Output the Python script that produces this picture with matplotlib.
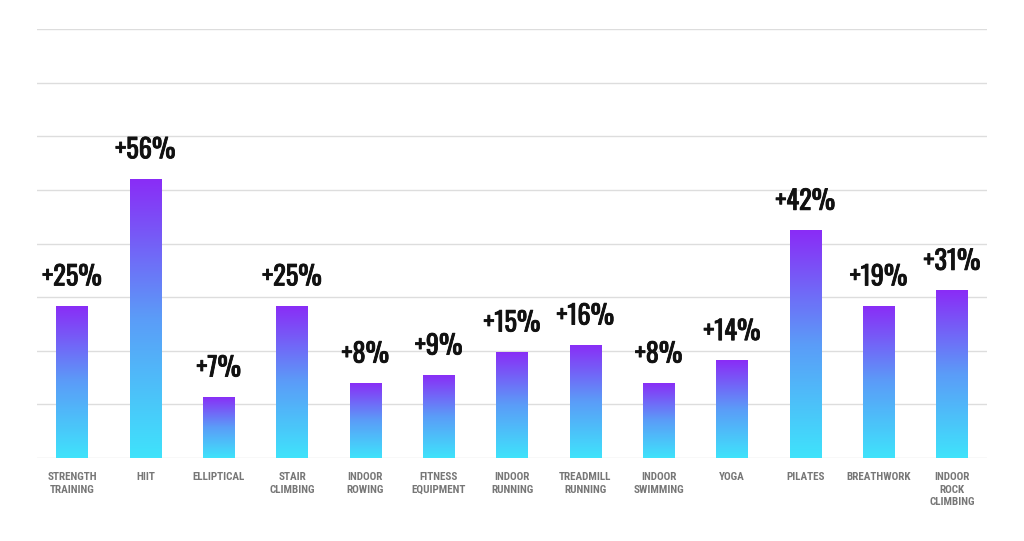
import numpy as np
import matplotlib.pyplot as plt
import matplotlib.patheffects as pe
from matplotlib.colors import LinearSegmentedColormap

categories = ['STRENGTH\nTRAINING', 'HIIT', 'ELLIPTICAL', 'STAIR\nCLIMBING',
              'INDOOR\nROWING', 'FITNESS\nEQUIPMENT', 'INDOOR\nRUNNING',
              'TREADMILL\nRUNNING', 'INDOOR\nSWIMMING', 'YOGA', 'PILATES',
              'BREATHWORK', 'INDOOR\nROCK\nCLIMBING']
# bar heights as drawn, labels as printed
heights = [28.4, 52.1, 11.4, 28.4, 14.0, 15.5, 19.8, 21.1, 14.0, 18.2, 42.5, 28.4, 31.3]
labels = ['+25%', '+56%', '+7%', '+25%', '+8%', '+9%', '+15%', '+16%',
          '+8%', '+14%', '+42%', '+19%', '+31%']

value_font = ['Oswald', 'DejaVu Sans']
label_font = ['Roboto Condensed', 'DejaVu Sans']

fig = plt.figure(figsize=(10.24, 5.41), dpi=100)
ax = fig.add_axes([0.036, 0.1534, 0.928, 0.793])

cmap = LinearSegmentedColormap.from_list('grad', ['#3fe3fb', '#5b9cf8', '#8a2cf6'])
grad = np.linspace(0, 1, 256).reshape(-1, 1)

x = np.arange(len(categories))
bars = ax.bar(x, heights, width=0.43, color='none', zorder=3)
for b in bars:
    x0, w, h = b.get_x(), b.get_width(), b.get_height()
    im = ax.imshow(grad, cmap=cmap, origin='lower', aspect='auto',
                   extent=[x0, x0 + w, 0, h], zorder=3)
    im.set_clip_path(b)

# Oswald only ships regular here, so thicken it a bit with a stroke
bold = [pe.withStroke(linewidth=0.6, foreground='#111111')]
for xi, h, lab in zip(x, heights, labels):
    ax.annotate(lab, (xi, h), xytext=(0, 11), textcoords='offset points',
                ha='center', va='bottom', fontsize=19, fontweight='bold',
                color='#111111', family=value_font, path_effects=bold)

ax.set_xlim(-0.48, 12.48)
ax.set_ylim(0, 80)
ax.set_yticks(np.arange(0, 81, 10))
ax.yaxis.grid(True, color='#dddddd', linewidth=1)
ax.set_axisbelow(True)
ax.tick_params(axis='y', left=False, labelleft=False)
ax.tick_params(axis='x', length=0, pad=10)
ax.set_xticks(x)
ax.set_xticklabels(categories, fontsize=8, fontweight='bold', color='#777777',
                   va='top', linespacing=1.35, family=label_font)
for s in ax.spines.values():
    s.set_visible(False)

fig.savefig('out.png', dpi=100)
